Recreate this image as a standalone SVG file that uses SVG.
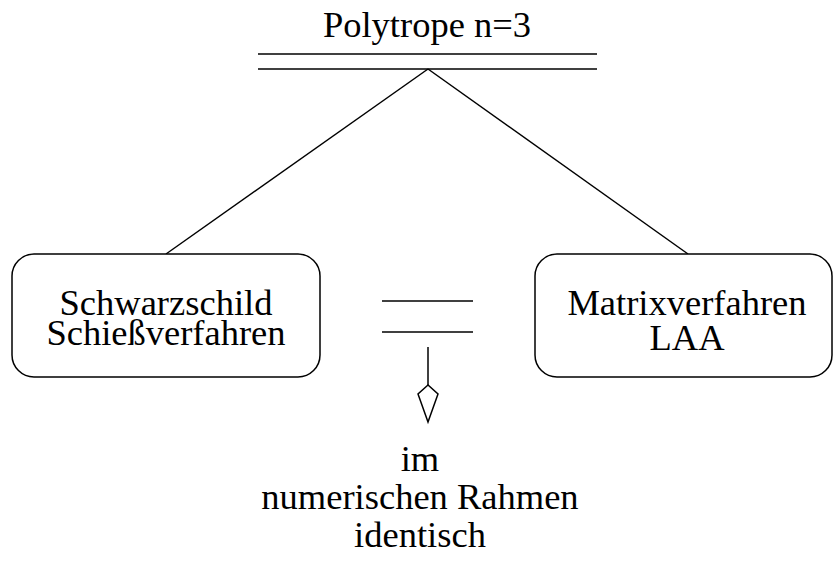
<svg xmlns="http://www.w3.org/2000/svg" width="833" height="567" viewBox="0 0 833 567">
<style>
text{font-family:"Liberation Serif","Times New Roman",serif;font-size:36.5px;fill:#000;text-anchor:middle}
.ln{stroke:#000;stroke-width:1.5;fill:none}
.box{stroke:#000;stroke-width:1.5;fill:#fff}
</style>
<rect width="833" height="567" fill="#fff"/>
<g id="connectors">
<line class="ln" x1="428" y1="69" x2="166" y2="254"/>
<line class="ln" x1="428" y1="69" x2="688" y2="254"/>
<line class="ln" x1="428" y1="347" x2="428" y2="385"/>
<polygon class="ln" points="428,385 418,394 428,422 438,394"/>
</g>
<g id="top">
<text x="427" y="37">Polytrope n=3</text>
<line class="ln" x1="258" y1="54" x2="597" y2="54"/>
<line class="ln" x1="258" y1="69" x2="597" y2="69"/>
</g>
<g id="left">
<rect class="box" x="12" y="254" width="308" height="123" rx="22"/>
<text x="166" y="315">Schwarzschild</text>
<text x="166" y="345">Schießverfahren</text>
</g>
<g id="right">
<rect class="box" x="535" y="254" width="297" height="123" rx="22"/>
<text x="687" y="315">Matrixverfahren</text>
<text x="687" y="350">LAA</text>
</g>
<g id="equal">
<line class="ln" x1="382" y1="301" x2="473" y2="301"/>
<line class="ln" x1="382" y1="332" x2="473" y2="332"/>
</g>
<g id="note">
<text x="420" y="471">im</text>
<text x="420" y="509">numerischen Rahmen</text>
<text x="420" y="547">identisch</text>
</g>
</svg>
